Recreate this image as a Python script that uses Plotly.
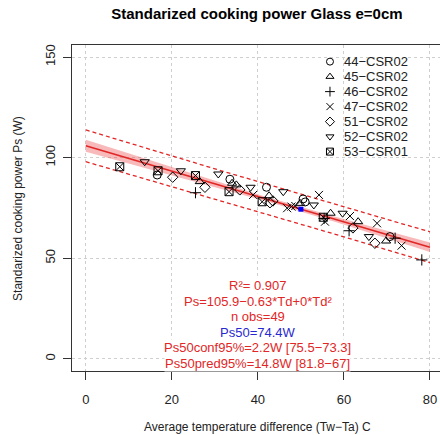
import numpy as np
import plotly.graph_objects as go

# Average temperature difference Td (C) and standardized cooking power Ps (W), per test series
td_44 = [16.6, 33.5, 42.0, 50.5, 51.0, 70.7]
ps_44 = [91.4, 89.3, 85.3, 79.5, 78.0, 60.8]

td_45 = [26.5, 34.0, 35.0, 42.6, 49.8, 56.9, 63.3, 69.8]
ps_45 = [88.1, 87.3, 86.5, 81.1, 77.3, 72.4, 68.2, 58.6]

td_46 = [25.5, 55.4, 61.2, 71.9, 78.1]
ps_46 = [82.6, 69.8, 63.7, 60.0, 49.2]

td_47 = [38.9, 46.8, 47.8, 48.7, 54.2, 55.6, 61.4, 67.7, 73.4]
ps_47 = [81.5, 74.9, 75.7, 76.0, 81.5, 68.2, 71.0, 67.4, 56.3]

td_51 = [20.2, 27.7, 35.8, 42.8, 43.5, 62.1, 67.2]
ps_51 = [90.3, 85.3, 84.0, 77.6, 78.5, 65.1, 57.5]

td_52 = [13.7, 22.1, 30.8, 38.3, 45.9, 53.0, 59.7, 65.8]
ps_52 = [98.0, 93.5, 91.9, 85.3, 83.1, 76.5, 72.4, 60.8]

td_53 = [7.9, 16.8, 25.5, 33.3, 41.0, 55.2]
ps_53 = [95.5, 93.5, 91.1, 83.1, 78.1, 70.4]

series_names = ["44\u2212CSR02", "45\u2212CSR02", "46\u2212CSR02", "47\u2212CSR02",
                "51\u2212CSR02", "52\u2212CSR02", "53\u2212CSR01"]

# Regression summary
intercept = 105.9
slope = -0.63
quad = 0
r_squared = 0.907
td_ref = 50
ps50_conf = [75.5, 73.3]
ps50_pred = [81.8, 67.0]

x_ticks = [0, 20, 40, 60, 80]
y_ticks = [0, 50, 100, 150]

MINUS = "\u2212"
RED = "rgb(226,38,38)"
FONT = "Liberation Sans, Arial, sans-serif"

series = [
    (td_44, ps_44, "circle-open"),
    (td_45, ps_45, "triangle-up-open"),
    (td_46, ps_46, "cross-thin-open"),
    (td_47, ps_47, "x-thin-open"),
    (td_51, ps_51, "diamond-open"),
    (td_52, ps_52, "triangle-down-open"),
    (td_53, ps_53, "square-x-open"),
]

all_td = np.concatenate([np.array(s[0], float) for s in series])
n_obs = len(all_td)
x_mean = all_td.mean()
sxx = ((all_td - x_mean) ** 2).sum()

# Fitted line with 95% confidence and prediction bands
grid = np.linspace(0, 80, 161)
fit = intercept + slope * grid + quad * grid ** 2
ps50 = intercept + slope * td_ref + quad * td_ref ** 2

lev = lambda x: 1.0 / n_obs + (x - x_mean) ** 2 / sxx
conf_half50 = (ps50_conf[0] - ps50_conf[1]) / 2
pred_half50 = (ps50_pred[0] - ps50_pred[1]) / 2
conf_half = conf_half50 * np.sqrt(lev(grid)) / np.sqrt(lev(td_ref))
pred_half = pred_half50 * np.sqrt(1 + lev(grid)) / np.sqrt(1 + lev(td_ref))

fig = go.Figure()

fig.add_trace(go.Scatter(x=grid, y=fit + conf_half, mode="lines",
                         line=dict(width=0), hoverinfo="skip", showlegend=False))
fig.add_trace(go.Scatter(x=grid, y=fit - conf_half, mode="lines", fill="tonexty",
                         fillcolor="rgba(235,70,70,0.38)", line=dict(width=0),
                         hoverinfo="skip", showlegend=False))
fig.add_trace(go.Scatter(x=grid, y=fit + pred_half, mode="lines",
                         line=dict(color=RED, width=1.3, dash="4px,3px"), showlegend=False))
fig.add_trace(go.Scatter(x=grid, y=fit - pred_half, mode="lines",
                         line=dict(color=RED, width=1.3, dash="4px,3px"), showlegend=False))
fig.add_trace(go.Scatter(x=grid, y=fit, mode="lines",
                         line=dict(color=RED, width=1.6), showlegend=False))

for (tds, pss, sym), name in zip(series, series_names):
    fig.add_trace(go.Scatter(
        x=tds, y=pss, mode="markers", name=name, showlegend=False,
        marker=dict(symbol=sym, size=8, color="black", line=dict(color="black", width=1)),
    ))

fig.add_trace(go.Scatter(x=[td_ref], y=[ps50], mode="markers", showlegend=False,
                         marker=dict(symbol="square", size=5, color="blue")))

# Key in the upper right corner, drawn on an overlay axis in plot-fraction units
key_x_marker = 0.701
key_x_text = 0.733
key_y0 = 0.949
key_step = 0.046
for i, ((tds, pss, sym), name) in enumerate(zip(series, series_names)):
    ky = key_y0 - i * key_step
    fig.add_trace(go.Scatter(
        x=[key_x_marker], y=[ky], mode="markers", xaxis="x2", yaxis="y2", showlegend=False,
        marker=dict(symbol=sym, size=7, color="black", line=dict(color="black", width=1)),
    ))
    fig.add_annotation(x=key_x_text, y=ky, xref="x2", yref="y2", text=name, showarrow=False,
                       xanchor="left", yanchor="middle", font=dict(size=13, color="#222", family=FONT))

# Fit statistics text block
stats_lines = [
    (f"R\u00b2= {r_squared:.3f}", RED),
    (f"Ps={intercept:g}{MINUS}{abs(slope):g}*Td+{quad:g}*Td\u00b2", RED),
    (f"n obs={n_obs}", RED),
    (f"Ps50={ps50:.1f}W", "rgb(40,40,210)"),
    (f"Ps50conf95%={ps50_conf[0] - ps50_conf[1]:.1f}W [{ps50_conf[0]:g}{MINUS}{ps50_conf[1]:g}]", RED),
    (f"Ps50pred95%={ps50_pred[0] - ps50_pred[1]:.1f}W [{ps50_pred[0]:g}{MINUS}{ps50_pred[1]:g}]", RED),
]
line_y0 = 0.262
line_step = 0.0475
for i, (txt, col) in enumerate(stats_lines):
    fig.add_annotation(x=0.505, y=line_y0 - i * line_step, xref="paper", yref="paper", text=txt,
                       showarrow=False, xanchor="center", yanchor="middle",
                       bgcolor="white", borderpad=0,
                       font=dict(size=13, color=col, family=FONT))

# Axis titles
fig.add_annotation(x=0.505, y=-0.172, xref="paper", yref="paper",
                   text=f"Average temperature difference (Tw{MINUS}Ta) C", showarrow=False,
                   xanchor="center", yanchor="middle", font=dict(size=12, color="#222", family=FONT))
fig.add_annotation(x=-0.147, y=0.5, xref="paper", yref="paper",
                   text="Standarized cooking power Ps (W)", showarrow=False, textangle=-90,
                   xanchor="center", yanchor="middle", font=dict(size=12, color="#222", family=FONT))

axis_common = dict(
    showgrid=True, gridcolor="#cfcfcf", griddash="dot", gridwidth=1,
    zeroline=False, showline=True, linecolor="#333", linewidth=1,
    ticks="outside", ticklen=8, tickcolor="#333", tickwidth=1,
    tickfont=dict(size=13, color="#222", family=FONT),
)

fig.update_layout(
    width=440, height=435,
    margin=dict(l=72, r=0, t=45, b=64),
    paper_bgcolor="white", plot_bgcolor="white",
    font=dict(family=FONT),
    title=dict(text="<b>Standarized cooking power Glass e=0cm</b>",
               x=0.584, xanchor="center", y=0.968, yanchor="middle",
               font=dict(size=15, color="black", family=FONT)),
    xaxis=dict(range=[-3.2, 82.33], tickvals=x_ticks, mirror=True,
               ticklabelstandoff=8, **axis_common),
    yaxis=dict(range=[-6, 156], tickvals=y_ticks, tickangle=-90, mirror=False,
               ticklabelstandoff=3, **axis_common),
    xaxis2=dict(range=[0, 1], overlaying="x", visible=False),
    yaxis2=dict(range=[0, 1], overlaying="y", visible=False),
)

fig.write_html("out.html")
